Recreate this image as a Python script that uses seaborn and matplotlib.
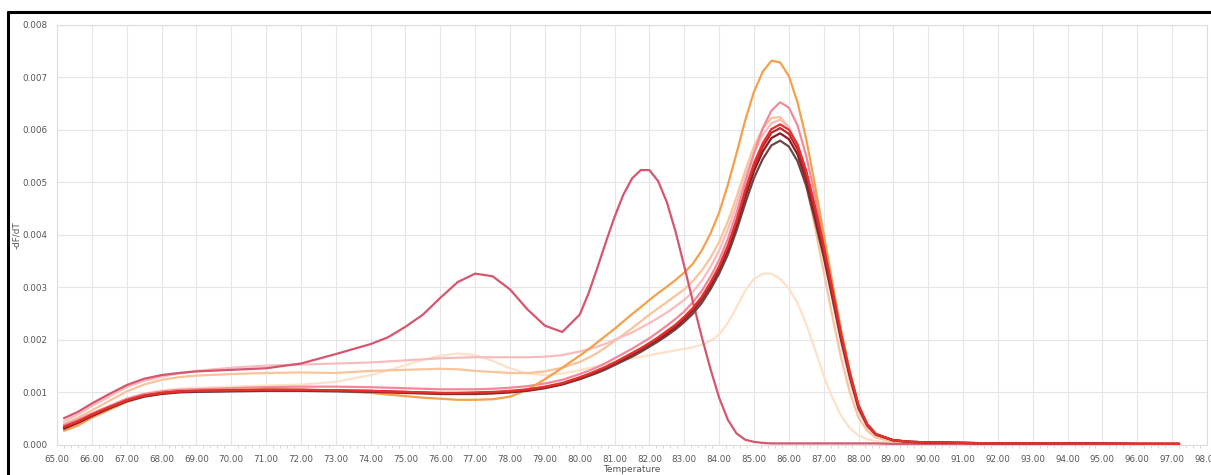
import numpy as np
import pandas as pd
import matplotlib
matplotlib.use("Agg")
import matplotlib.pyplot as plt
from matplotlib.lines import Line2D
from matplotlib.ticker import MultipleLocator, FormatStrFormatter
import seaborn as sns

# ---------------- data (values in units of 0.001 -dF/dT) ----------------
temperature = [65.2, 65.6, 66.0, 66.5, 67.0, 67.5, 68.0, 68.5, 69.0, 70.0, 71.0, 72.0, 73.0, 74.0,
               74.5, 75.0, 75.5, 76.0, 76.5, 77.0, 77.5, 78.0, 78.5, 79.0, 79.5, 80.0,
               80.25, 80.5, 80.75, 81.0, 81.25, 81.5, 81.75, 82.0, 82.25, 82.5, 82.75, 83.0,
               83.25, 83.5, 83.75, 84.0, 84.25, 84.5, 84.75, 85.0, 85.25, 85.5, 85.75, 86.0,
               86.25, 86.5, 86.75, 87.0, 87.25, 87.5, 87.75, 88.0, 88.25, 88.5, 89.0, 89.5,
               90.0, 91.0, 92.0, 94.0, 96.0, 97.2]

faint = [0.36, 0.46, 0.59, 0.74, 0.88, 0.98, 1.04, 1.07, 1.09, 1.11, 1.13, 1.15, 1.20, 1.33,
         1.42, 1.52, 1.62, 1.70, 1.74, 1.71, 1.60, 1.46, 1.36, 1.33, 1.36, 1.42,
         1.46, 1.50, 1.54, 1.58, 1.62, 1.65, 1.68, 1.71, 1.74, 1.77, 1.80, 1.83,
         1.86, 1.91, 1.98, 2.10, 2.32, 2.62, 2.94, 3.16, 3.26, 3.26, 3.16, 2.98,
         2.70, 2.30, 1.82, 1.32, 0.90, 0.56, 0.32, 0.18, 0.11, 0.07, 0.04, 0.04,
         0.03, 0.03, 0.03, 0.02, 0.02, 0.02]

peach = [0.40, 0.52, 0.66, 0.84, 1.02, 1.15, 1.24, 1.29, 1.32, 1.35, 1.37, 1.38, 1.37, 1.41,
         1.42, 1.43, 1.44, 1.45, 1.44, 1.41, 1.39, 1.37, 1.37, 1.40, 1.47, 1.58,
         1.66, 1.75, 1.86, 1.98, 2.10, 2.22, 2.35, 2.48, 2.60, 2.72, 2.84, 2.96,
         3.12, 3.32, 3.56, 3.86, 4.25, 4.72, 5.22, 5.68, 6.02, 6.22, 6.24, 6.05,
         5.62, 4.95, 4.15, 3.30, 2.45, 1.66, 1.00, 0.52, 0.27, 0.14, 0.06, 0.05,
         0.04, 0.03, 0.03, 0.02, 0.02, 0.02]

light_pink = [0.45, 0.58, 0.74, 0.92, 1.10, 1.22, 1.30, 1.36, 1.41, 1.47, 1.51, 1.53, 1.55, 1.57,
              1.59, 1.61, 1.63, 1.65, 1.66, 1.67, 1.67, 1.67, 1.67, 1.68, 1.71, 1.78,
              1.82, 1.87, 1.93, 2.00, 2.07, 2.14, 2.23, 2.32, 2.42, 2.52, 2.64, 2.76,
              2.92, 3.12, 3.38, 3.70, 4.10, 4.58, 5.10, 5.55, 5.90, 6.12, 6.19, 6.05,
              5.70, 5.12, 4.40, 3.60, 2.76, 1.94, 1.22, 0.65, 0.34, 0.18, 0.07, 0.05,
              0.04, 0.03, 0.03, 0.02, 0.02, 0.02]

pink = [0.38, 0.48, 0.60, 0.74, 0.88, 0.97, 1.02, 1.05, 1.06, 1.08, 1.10, 1.11, 1.11, 1.10,
        1.09, 1.08, 1.07, 1.06, 1.06, 1.06, 1.07, 1.09, 1.12, 1.17, 1.24, 1.35,
        1.41, 1.48, 1.56, 1.65, 1.74, 1.83, 1.93, 2.03, 2.15, 2.27, 2.40, 2.54,
        2.72, 2.93, 3.20, 3.52, 3.92, 4.42, 5.00, 5.55, 6.02, 6.36, 6.52, 6.42,
        6.08, 5.50, 4.75, 3.92, 3.04, 2.16, 1.38, 0.74, 0.38, 0.20, 0.08, 0.05,
        0.04, 0.03, 0.03, 0.02, 0.02, 0.02]

orange = [0.27, 0.37, 0.52, 0.67, 0.82, 0.92, 0.98, 1.01, 1.03, 1.05, 1.06, 1.05, 1.03, 0.99,
          0.96, 0.93, 0.90, 0.88, 0.86, 0.86, 0.87, 0.92, 1.05, 1.25, 1.47, 1.70,
          1.82, 1.95, 2.08, 2.21, 2.35, 2.49, 2.62, 2.76, 2.89, 3.01, 3.14, 3.28,
          3.45, 3.70, 4.02, 4.42, 4.95, 5.55, 6.18, 6.72, 7.10, 7.31, 7.28, 7.02,
          6.52, 5.82, 4.95, 4.02, 3.08, 2.18, 1.40, 0.76, 0.39, 0.21, 0.08, 0.06,
          0.05, 0.04, 0.03, 0.03, 0.03, 0.03]

dimer = [0.51, 0.63, 0.79, 0.97, 1.14, 1.26, 1.33, 1.37, 1.40, 1.43, 1.46, 1.55, 1.73, 1.92,
         2.05, 2.25, 2.48, 2.80, 3.10, 3.26, 3.21, 2.96, 2.58, 2.27, 2.15, 2.48,
         2.88, 3.36, 3.86, 4.34, 4.76, 5.07, 5.23, 5.23, 5.02, 4.62, 4.06, 3.40,
         2.72, 2.06, 1.45, 0.90, 0.48, 0.22, 0.10, 0.06, 0.04, 0.03, 0.03, 0.03,
         0.03, 0.03, 0.03, 0.03, 0.03, 0.03, 0.03, 0.03, 0.03, 0.03, 0.02, 0.02,
         0.02, 0.02, 0.02, 0.02, 0.02, 0.02]

brown = [0.33, 0.43, 0.56, 0.70, 0.83, 0.92, 0.97, 1.00, 1.01, 1.02, 1.03, 1.03, 1.02, 1.01,
         1.00, 0.99, 0.98, 0.97, 0.97, 0.97, 0.98, 1.00, 1.03, 1.08, 1.15, 1.25,
         1.31, 1.37, 1.44, 1.52, 1.60, 1.68, 1.77, 1.87, 1.97, 2.08, 2.20, 2.34,
         2.50, 2.70, 2.96, 3.26, 3.62, 4.08, 4.60, 5.08, 5.44, 5.70, 5.79, 5.68,
         5.40, 4.93, 4.27, 3.58, 2.80, 2.00, 1.30, 0.70, 0.37, 0.20, 0.09, 0.06,
         0.05, 0.04, 0.03, 0.03, 0.02, 0.02]

dark_red = [0.31, 0.42, 0.55, 0.70, 0.84, 0.93, 0.98, 1.01, 1.02, 1.03, 1.04, 1.04, 1.03, 1.02,
            1.01, 1.00, 0.99, 0.98, 0.98, 0.98, 0.99, 1.01, 1.04, 1.09, 1.16, 1.27,
            1.33, 1.40, 1.47, 1.55, 1.63, 1.72, 1.81, 1.91, 2.01, 2.12, 2.24, 2.39,
            2.56, 2.77, 3.03, 3.34, 3.71, 4.18, 4.72, 5.21, 5.58, 5.84, 5.93, 5.82,
            5.53, 5.04, 4.36, 3.64, 2.84, 2.03, 1.32, 0.72, 0.38, 0.20, 0.09, 0.06,
            0.05, 0.04, 0.03, 0.03, 0.02, 0.02]

crimson = [0.34, 0.44, 0.57, 0.71, 0.85, 0.94, 0.99, 1.02, 1.03, 1.04, 1.05, 1.05, 1.04, 1.03,
           1.02, 1.01, 1.00, 0.99, 0.99, 0.99, 1.00, 1.02, 1.05, 1.10, 1.17, 1.28,
           1.34, 1.41, 1.48, 1.56, 1.65, 1.74, 1.83, 1.93, 2.03, 2.15, 2.27, 2.42,
           2.59, 2.80, 3.07, 3.38, 3.76, 4.24, 4.80, 5.30, 5.67, 5.94, 6.03, 5.92,
           5.63, 5.13, 4.45, 3.70, 2.88, 2.06, 1.34, 0.73, 0.38, 0.20, 0.09, 0.06,
           0.05, 0.04, 0.03, 0.03, 0.02, 0.02]

red = [0.35, 0.45, 0.58, 0.72, 0.85, 0.94, 0.99, 1.02, 1.03, 1.04, 1.05, 1.05, 1.04, 1.03,
       1.02, 1.01, 1.00, 0.99, 0.99, 1.00, 1.01, 1.03, 1.06, 1.11, 1.18, 1.29,
       1.35, 1.42, 1.49, 1.57, 1.66, 1.75, 1.84, 1.94, 2.05, 2.17, 2.29, 2.44,
       2.61, 2.82, 3.09, 3.40, 3.79, 4.28, 4.85, 5.36, 5.74, 6.01, 6.10, 6.00,
       5.72, 5.22, 4.55, 3.80, 2.97, 2.12, 1.38, 0.76, 0.40, 0.21, 0.09, 0.06,
       0.05, 0.04, 0.03, 0.03, 0.02, 0.02]

series = {
    "faint": faint, "peach": peach, "light_pink": light_pink, "pink": pink,
    "orange": orange, "dimer": dimer, "brown": brown, "dark_red": dark_red,
    "crimson": crimson, "red": red,
}
palette = {
    "faint": "#fde1c8", "peach": "#f9c39b", "light_pink": "#f8bcbe", "pink": "#f2899a",
    "orange": "#f4a04c", "dimer": "#d4566f", "brown": "#6a4646", "dark_red": "#8e1a1c",
    "crimson": "#bf2530", "red": "#e5302a",
}

x_ticks = [65.0 + i for i in range(34)]
y_ticks = [0.000, 0.001, 0.002, 0.003, 0.004, 0.005, 0.006, 0.007, 0.008]

rows = []
for name, vals in series.items():
    assert len(vals) == len(temperature), name
    for t, v in zip(temperature, vals):
        rows.append({"Temperature": t, "dF": v * 1e-3, "sample": name})
df = pd.DataFrame(rows)

# ---------------- figure ----------------
sns.set_style("white")
plt.rcParams['font.family'] = ['DejaVu Sans']

fig = plt.figure(figsize=(12.11, 4.75), dpi=100)
ax = fig.add_axes([57 / 1211, 30 / 475, 1150 / 1211, 420.5 / 475])

sns.lineplot(data=df, x="Temperature", y="dF", hue="sample", hue_order=list(series.keys()),
             palette=palette, estimator=None, sort=False, legend=False, linewidth=1.6, ax=ax)
for ln in ax.get_lines():
    ln.set_solid_joinstyle("round")
    ln.set_solid_capstyle("round")

ax.set_xlim(65, 98)
ax.set_ylim(0, 0.008)
ax.set_xticks(x_ticks)
ax.set_yticks(y_ticks)
ax.xaxis.set_major_formatter(FormatStrFormatter("%.2f"))
ax.yaxis.set_major_formatter(FormatStrFormatter("%.3f"))
ax.xaxis.set_minor_locator(MultipleLocator(0.2))
ax.grid(True, which="major", color="#e6e6ea", linewidth=0.8)
ax.set_axisbelow(True)
for s in ax.spines.values():
    s.set_color("#dcdcdc")
    s.set_linewidth(0.8)
ax.tick_params(axis="both", which="major", labelsize=6.3, labelcolor="#555555",
               length=0, pad=7)
ax.tick_params(axis="x", which="minor", length=2.5, color="#cfcfcf", width=0.6,
               direction="out", bottom=True)
ax.set_xlabel("Temperature", fontsize=6.5, color="#555555", labelpad=1)
ax.set_ylabel("-dF/dT", fontsize=6.3, color="#555555")
ax.yaxis.set_label_coords(-0.031, 0.5)

# outer black frame (top and left edges visible)
fig.add_artist(Line2D([8 / 1211, 1.0], [1 - 12 / 475, 1 - 12 / 475], color="black",
                      linewidth=2.2, transform=fig.transFigure))
fig.add_artist(Line2D([8 / 1211, 8 / 1211], [0.0, 1 - 12 / 475], color="black",
                      linewidth=2.2, transform=fig.transFigure))

fig.savefig("out.png", dpi=100, facecolor="white")
